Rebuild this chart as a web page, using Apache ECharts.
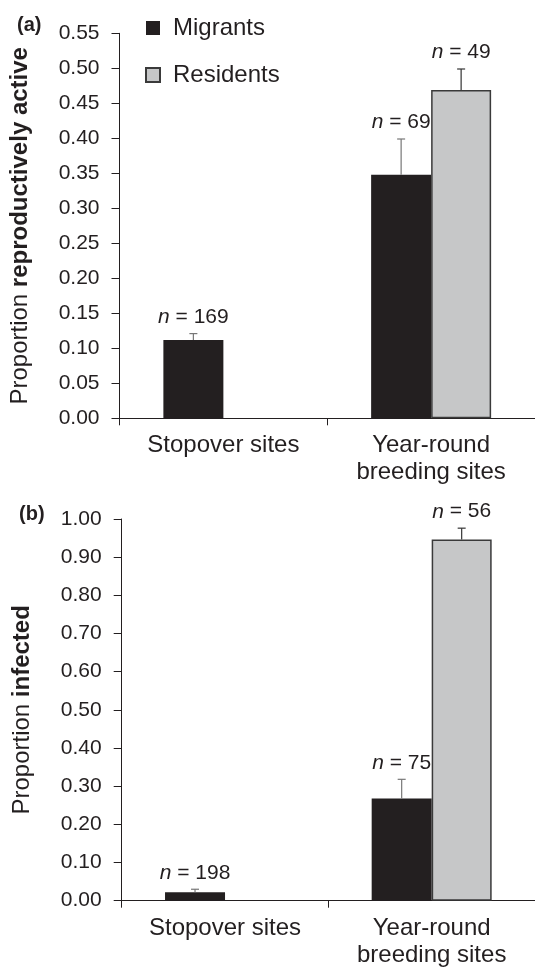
<!DOCTYPE html>
<html>
<head>
<meta charset="utf-8">
<script src="https://cdn.jsdelivr.net/npm/echarts@6/dist/echarts.min.js"></script>
<style>
  html, body { margin: 0; padding: 0; background: #fff; }
  #chart { width: 535px; height: 969px; }
</style>
</head>
<body>
<div id="chart"></div>
<script>
const categories = ['Stopover sites', 'Year-round\nbreeding sites'];

// (a) proportion reproductively active
const activeMigrants = [0.112, 0.348];
const activeMigrantsErr = [0.009, 0.051];
const activeMigrantsN = [169, 69];
const activeResidents = [null, 0.469];
const activeResidentsErr = [null, 0.030];
const activeResidentsN = [null, 49];

// (b) proportion infected
const infectedMigrants = [0.022, 0.268];
const infectedMigrantsErr = [0.008, 0.050];
const infectedMigrantsN = [198, 75];
const infectedResidents = [null, 0.946];
const infectedResidentsErr = [null, 0.030];
const infectedResidentsN = [null, 56];

const activeTicks = { max: 0.55, interval: 0.05 };
const infectedTicks = { max: 1.0, interval: 0.1 };

const FONT = 'Liberation Sans, Arial, Helvetica, sans-serif';
const INK = '#231f20';
const BAR_W = 60;

const migrantStyle = { color: INK };
const residentStyle = { color: '#c6c7c8', borderColor: '#3a3a3a', borderWidth: 1.5 };

function xAxis(idx) {
  return {
    type: 'category',
    gridIndex: idx,
    data: categories,
    axisLine: { lineStyle: { color: INK, width: 1 } },
    axisTick: { show: true, length: 7, alignWithLabel: false, interval: 0, lineStyle: { color: INK } },
    axisLabel: { interval: 0, color: INK, fontSize: 24, fontFamily: FONT, margin: 14, lineHeight: 27 }
  };
}

function yAxis(idx, ticks, name) {
  return {
    type: 'value',
    gridIndex: idx,
    min: 0,
    max: ticks.max,
    interval: ticks.interval,
    name: name,
    nameLocation: 'middle',
    nameGap: 87,
    nameTextStyle: {
      color: INK, fontSize: 24, fontFamily: FONT,
      rich: { b: { fontSize: 24, fontWeight: 'bold', fontFamily: FONT, color: INK } }
    },
    axisLine: { show: true, lineStyle: { color: INK, width: 1 } },
    axisTick: { show: true, length: 8, lineStyle: { color: INK } },
    splitLine: { show: false },
    axisLabel: {
      color: INK, fontSize: 21, fontFamily: FONT, margin: 20,
      formatter: v => v.toFixed(2)
    }
  };
}

function bars(name, values, idx, style) {
  return {
    name: name,
    type: 'bar',
    xAxisIndex: idx,
    yAxisIndex: idx,
    barWidth: BAR_W,
    barGap: '0%',
    itemStyle: style,
    data: values
  };
}

// upper error bar + "n = .." label above it
function errBars(name, means, errs, ns, side, idx, lineColor) {
  const data = means
    .map((m, i) => (m == null ? null : [i, m, errs[i], ns[i]]))
    .filter(Boolean);
  return {
    name: name,
    type: 'custom',
    xAxisIndex: idx,
    yAxisIndex: idx,
    clip: false,
    z: 5,
    renderItem: (params, api) => {
      const base = api.coord([api.value(0), api.value(1)]);
      const top = api.coord([api.value(0), api.value(1) + api.value(2)]);
      const x = base[0] + side * BAR_W / 2;
      return {
        type: 'group',
        children: [
          { type: 'line', shape: { x1: x, y1: base[1], x2: x, y2: top[1] },
            style: { stroke: lineColor, lineWidth: 1.2 } },
          { type: 'line', shape: { x1: x - 4, y1: top[1], x2: x + 4, y2: top[1] },
            style: { stroke: lineColor, lineWidth: 1.2 } },
          { type: 'text',
            style: {
              x: x, y: top[1] - 6,
              text: '{i|n} = ' + api.value(3),
              align: 'center', verticalAlign: 'bottom',
              fill: INK, fontSize: 21, fontFamily: FONT,
              rich: { i: { fontStyle: 'italic', fontSize: 21, fontFamily: FONT, fill: INK } }
            } }
        ]
      };
    },
    data: data
  };
}

const option = {
  animation: false,
  backgroundColor: '#fff',
  textStyle: { fontFamily: FONT },
  title: [
    { text: '(a)', left: 12, top: 10, textStyle: { fontSize: 20, fontWeight: 'bold', color: INK, fontFamily: FONT } },
    { text: '(b)', left: 14, top: 499, textStyle: { fontSize: 20, fontWeight: 'bold', color: INK, fontFamily: FONT } }
  ],
  legend: {
    data: ['Migrants', 'Residents'],
    orient: 'vertical',
    left: 140,
    top: 11,
    icon: 'rect',
    itemWidth: 14,
    itemHeight: 14,
    itemGap: 23,
    selectedMode: false,
    textStyle: { fontSize: 24, color: INK, fontFamily: FONT, padding: [0, 0, 0, 8] }
  },
  grid: [
    { left: 119.5, right: 0, top: 33.3, height: 385 },
    { left: 121.7, right: 0, top: 519, height: 381.7 }
  ],
  xAxis: [xAxis(0), xAxis(1)],
  yAxis: [
    yAxis(0, activeTicks, 'Proportion {b|reproductively active}'),
    yAxis(1, infectedTicks, 'Proportion {b|infected}')
  ],
  series: [
    bars('Migrants', activeMigrants, 0, migrantStyle),
    bars('Residents', activeResidents, 0, residentStyle),
    bars('Migrants', infectedMigrants, 1, migrantStyle),
    bars('Residents', infectedResidents, 1, residentStyle),
    errBars('Migrants', activeMigrants, activeMigrantsErr, activeMigrantsN, -1, 0, '#777'),
    errBars('Residents', activeResidents, activeResidentsErr, activeResidentsN, 1, 0, '#333'),
    errBars('Migrants', infectedMigrants, infectedMigrantsErr, infectedMigrantsN, -1, 1, '#777'),
    errBars('Residents', infectedResidents, infectedResidentsErr, infectedResidentsN, 1, 1, '#333')
  ]
};

const chart = echarts.init(document.getElementById('chart'));
chart.setOption(option);
</script>
</body>
</html>
